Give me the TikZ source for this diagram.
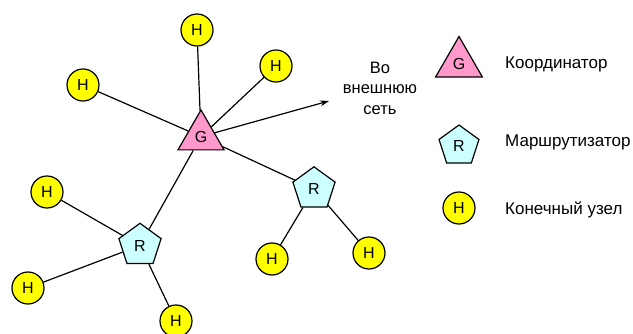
\documentclass[tikz,border=0pt]{standalone}
\usepackage{fontspec}
\setmainfont{Liberation Sans}
\usetikzlibrary{shapes.geometric,arrows.meta}
\definecolor{gpink}{HTML}{FF99CC}
\definecolor{rcyan}{HTML}{CCFFFF}
\definecolor{hyel}{HTML}{FFFF00}
\begin{document}
\begin{tikzpicture}[x=1pt,y=-1pt,
  lw/.style={line width=1.2pt},
  hnode/.style={circle,draw,lw,fill=hyel,minimum size=32pt,inner sep=0pt,font=\fontsize{16}{18}\selectfont},
  gnode/.style={regular polygon,regular polygon sides=3,draw,lw,fill=gpink,minimum size=53.2pt,inner sep=0pt,font=\fontsize{16}{18}\selectfont},
  rnode/.style={regular polygon,regular polygon sides=5,draw,lw,fill=rcyan,minimum size=44.4pt,inner sep=0pt,font=\fontsize{16}{18}\selectfont},
  link/.style={lw},
  lbl/.style={anchor=west,font=\fontsize{17}{20}\selectfont,inner sep=0pt}
]
\useasboundingbox (0,0) rectangle (633,334);
% main graph
\node[gnode] (G) at (201,136.6) {G};
\node[hnode] (H1) at (197,30) {H};
\node[hnode] (H2) at (276,66) {H};
\node[hnode] (H3) at (83,85) {H};
\node[rnode] (R1) at (314,189) {R};
\node[rnode] (R2) at (140,245.5) {R};
\node[hnode] (H4) at (47,192) {H};
\node[hnode] (H5) at (28,288) {H};
\node[hnode] (H6) at (176,321) {H};
\node[hnode] (H7) at (272,259) {H};
\node[hnode] (H8) at (369,253) {H};
\coordinate (ext) at (329,101);
\node[align=center,font=\fontsize{16.5}{20.5}\selectfont,inner sep=0pt] (txt) at (380,88) {Во\\внешнюю\\сеть};
\draw[link] (H1) -- (G);
\draw[link] (H2) -- (G);
\draw[link] (H3) -- (G);
\draw[link] (G) -- (R1);
\draw[link] (G) -- (R2);
\draw[link] (R2) -- (H4);
\draw[link] (R2) -- (H5);
\draw[link] (R2) -- (H6);
\draw[link] (R1) -- (H7);
\draw[link] (R1) -- (H8);
\draw[link,-{Stealth[length=9pt,width=6pt]}] (G) -- (ext);
% legend
\node[gnode,minimum size=54pt] (LG) at (459,63.5) {G};
\node[rnode,minimum size=42pt] (LR) at (459,146) {R};
\node[hnode] (LH) at (459,208) {H};
\node[lbl] (tG) at (505,64) {Координатор};
\node[lbl] (tR) at (505,142) {Маршрутизатор};
\node[lbl] (tH) at (505,210) {Конечный узел};
\end{tikzpicture}
\end{document}
